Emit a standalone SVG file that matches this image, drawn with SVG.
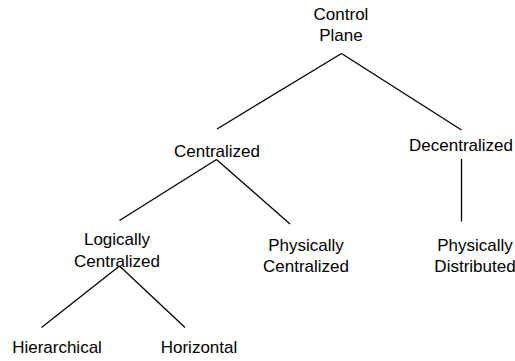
<svg xmlns="http://www.w3.org/2000/svg" width="515" height="361" viewBox="0 0 515 361">
<style>
text{font-family:"Liberation Sans",Arial,sans-serif;font-size:17px;fill:#000;text-anchor:middle}
.c line{stroke:#000;stroke-width:1.3;fill:none}
</style>
<rect width="515" height="361" fill="#fff"/>
<g id="connectors" class="c">
<line x1="341.5" y1="53.5" x2="217" y2="129"/>
<line x1="341.5" y1="53.5" x2="461.5" y2="130"/>
<line x1="216.5" y1="159.5" x2="119.5" y2="220.5"/>
<line x1="216.5" y1="159.5" x2="290" y2="224"/>
<line x1="119.5" y1="266" x2="41.5" y2="327.5"/>
<line x1="119.5" y1="266" x2="185" y2="327.5"/>
<line x1="461.5" y1="159" x2="461.5" y2="221.5"/>
</g>
<g id="control-plane"><text x="341" y="20">Control</text><text x="341" y="41">Plane</text></g>
<g id="centralized"><text x="217" y="157">Centralized</text></g>
<g id="decentralized"><text x="461" y="151">Decentralized</text></g>
<g id="logically-centralized"><text x="117" y="245">Logically</text><text x="117" y="267">Centralized</text></g>
<g id="physically-centralized"><text x="306" y="251">Physically</text><text x="306" y="272">Centralized</text></g>
<g id="physically-distributed"><text x="475" y="251">Physically</text><text x="475" y="272">Distributed</text></g>
<g id="hierarchical"><text x="57" y="353">Hierarchical</text></g>
<g id="horizontal"><text x="199" y="353">Horizontal</text></g>
</svg>
